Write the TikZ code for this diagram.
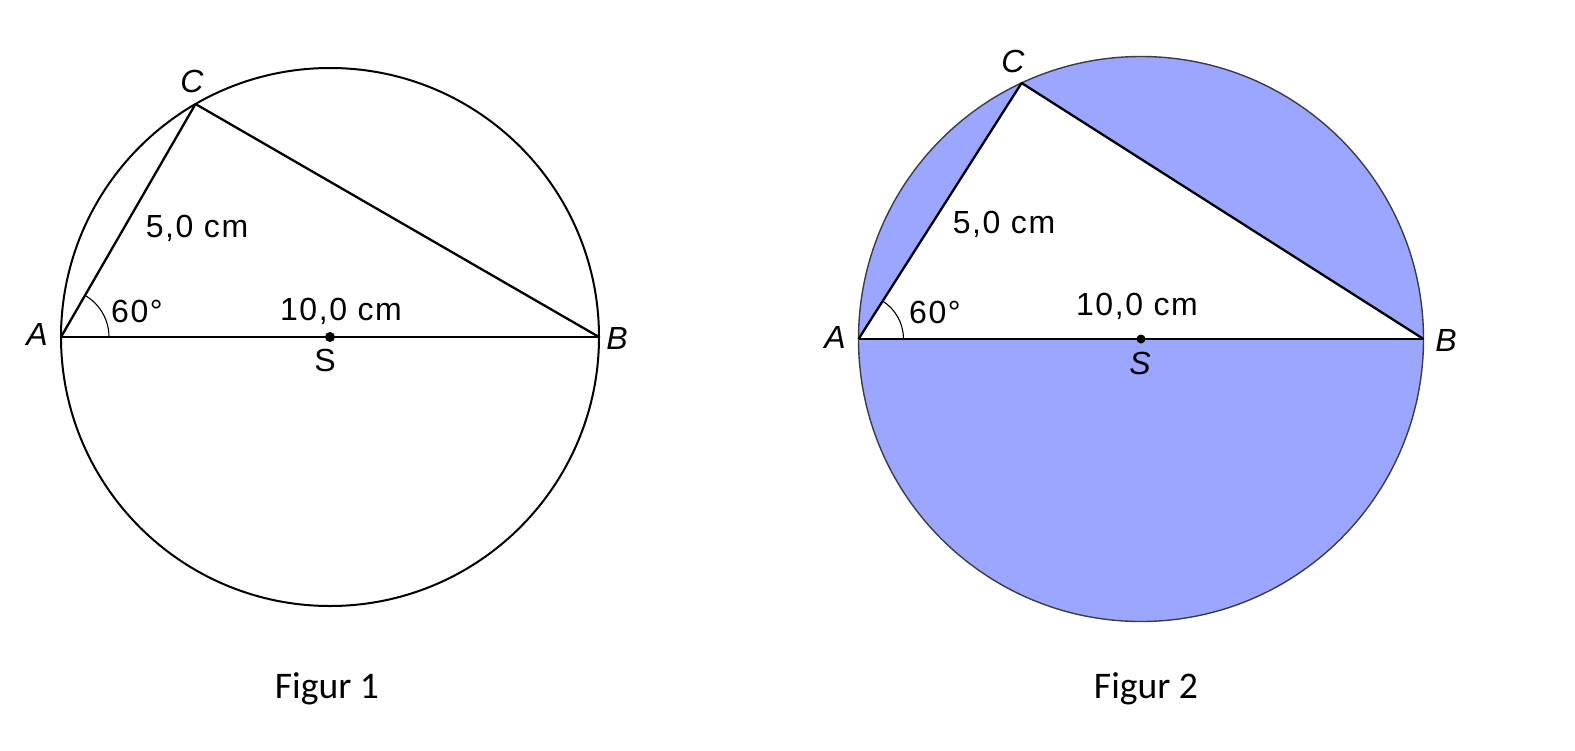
\documentclass[tikz,border=0pt]{standalone}
\usepackage{fontspec}
\usetikzlibrary{calc}
\setmainfont{Liberation Sans}
\newfontfamily\capfont{Carlito}
\definecolor{fillblue}{RGB}{155,166,255}
\definecolor{rimgray}{RGB}{60,60,70}
\begin{document}
\begin{tikzpicture}[x=0.5pt,y=-0.5pt,
  lbl/.style={font=\fontsize{16}{17}\selectfont\addfontfeature{LetterSpace=5}, inner sep=0pt},
  ptlbl/.style={font=\fontsize{16}{17}\selectfont\itshape, inner sep=0pt},
  ptup/.style={font=\fontsize{16}{17}\selectfont, inner sep=0pt},
  figcap/.style={font=\capfont\fontsize{18.8}{20}\selectfont, inner sep=0pt},
  seg/.style={line width=1.15pt, black},
  rimone/.style={line width=1pt, black},
  rimtwo/.style={line width=0.7pt, rimgray},
  angarc/.style={line width=0.55pt, black}]
\useasboundingbox (0,0) rectangle (1575,750);
% ---------- Figure 1 ----------
\coordinate (S1) at (330,337);
\coordinate (A1) at (61,337);
\coordinate (B1) at (599,337);
\coordinate (C1) at (195.5,104);
\draw[rimone] (S1) circle [radius=269];
\draw[seg] (A1) -- (B1);
\draw[seg, line join=round] (A1) -- (C1) -- (B1);
\draw[angarc] ($(A1)+(48,0)$) arc [start angle=0, end angle=-60, radius=48];
\fill (S1) circle [radius=5];
\node[ptlbl] (lC1) at (192,81) {C};
\node[ptlbl] (lA1) at (37,334) {A};
\node[ptlbl] (lB1) at (617,338) {B};
\node[ptup] (lS1) at (325,360) {S};
\node[lbl] (l51) at (197,228) {5,0 cm};
\node[lbl] (l61) at (137,311) {60°};
\node[lbl] (l101) at (341,311) {10,0 cm};
\node[figcap] (f1) at (327,689) {Figur 1};
% ---------- Figure 2 ----------
\coordinate (S2) at (1141,339);
\coordinate (A2) at (858.5,339);
\coordinate (B2) at (1423.5,339);
\coordinate (C2) at (1021.6,83);
\fill[fillblue] (S2) circle [radius=282.5];
\fill[white] (A2) -- (B2) -- (C2) -- cycle;
\draw[rimtwo] (S2) circle [radius=282.5];
\draw[seg] (A2) -- (B2);
\draw[seg, line join=round] (A2) -- (C2) -- (B2);
\draw[angarc] ($(A2)+(45,0)$) arc [start angle=0, end angle=-57.5, radius=45];
\fill (S2) circle [radius=4.5];
\node[ptlbl] (lC2) at (1013,61) {C};
\node[ptlbl] (lA2) at (835,337) {A};
\node[ptlbl] (lB2) at (1446,340) {B};
\node[ptlbl] (lS2) at (1140,363) {S};
\node[lbl] (l52) at (1004,224) {5,0 cm};
\node[lbl] (l62) at (935,312) {60°};
\node[lbl] (l102) at (1137,306) {10,0 cm};
\node[figcap] (f2) at (1146,689) {Figur 2};
\end{tikzpicture}
\end{document}
